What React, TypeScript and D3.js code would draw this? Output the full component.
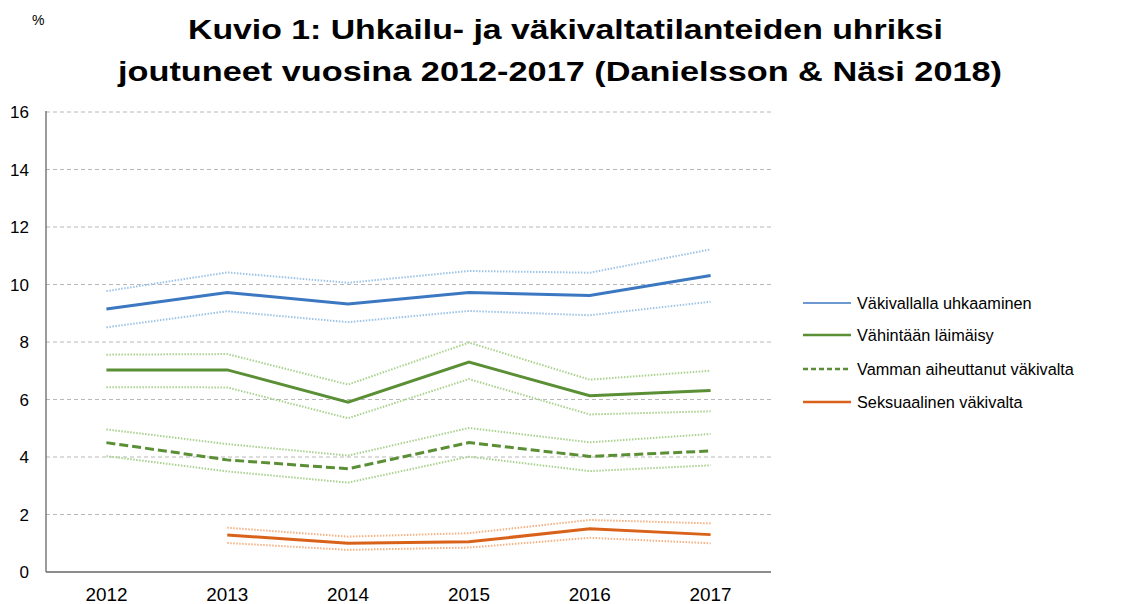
import React from "react";
import * as d3 from "d3";

const years = ["2012", "2013", "2014", "2015", "2016", "2017"];
const yTicks = [0, 2, 4, 6, 8, 10, 12, 14, 16];

const threatMain = [9.15, 9.72, 9.32, 9.72, 9.62, 10.31];
const threatHigh = [9.77, 10.42, 10.06, 10.47, 10.41, 11.22];
const threatLow = [8.51, 9.07, 8.69, 9.08, 8.93, 9.4];

const slapMain = [7.03, 7.03, 5.91, 7.3, 6.13, 6.31];
const slapHigh = [7.56, 7.58, 6.52, 7.98, 6.69, 7.0];
const slapLow = [6.43, 6.42, 5.35, 6.71, 5.48, 5.59];

const injuryMain = [4.5, 3.9, 3.59, 4.5, 4.02, 4.21];
const injuryHigh = [4.96, 4.45, 4.05, 5.01, 4.51, 4.8];
const injuryLow = [4.03, 3.5, 3.11, 4.01, 3.51, 3.71];

const sexMain = [null, 1.29, 1.0, 1.05, 1.5, 1.3];
const sexHigh = [null, 1.54, 1.23, 1.35, 1.81, 1.69];
const sexLow = [null, 1.01, 0.77, 0.85, 1.19, 1.0];

const legendLabels = [
  "Väkivallalla uhkaaminen",
  "Vähintään läimäisy",
  "Vamman aiheuttanut väkivalta",
  "Seksuaalinen väkivalta",
];

const titleLines = [
  "Kuvio 1: Uhkailu- ja väkivaltatilanteiden uhriksi",
  "joutuneet vuosina 2012-2017 (Danielsson & Näsi 2018)",
];

const BLUE = "#3b78c1";
const BLUE_L = "#9dc3e6";
const GREEN = "#5b8f35";
const GREEN_L = "#a9d18e";
const ORANGE = "#d9621b";
const ORANGE_L = "#f4b183";

export default function App() {
  const W = 1121;
  const H = 604;
  const x = d3.scaleBand<string>().domain(years).range([46, 771]);
  const y = d3.scaleLinear().domain([0, 16]).range([572, 112]);
  const cx = (i: number) => (x(years[i]) as number) + x.bandwidth() / 2;
  const line = d3
    .line<number | null>()
    .defined((d) => d !== null)
    .x((_, i) => cx(i))
    .y((d) => y(d as number));

  const font = "Arial, 'Liberation Sans', sans-serif";

  const series = [
    { d: threatHigh, c: BLUE_L, w: 2, dash: "1.5,1.5" },
    { d: threatLow, c: BLUE_L, w: 2, dash: "1.5,1.5" },
    { d: slapHigh, c: GREEN_L, w: 2, dash: "1.5,1.5" },
    { d: slapLow, c: GREEN_L, w: 2, dash: "1.5,1.5" },
    { d: injuryHigh, c: GREEN_L, w: 2, dash: "1.5,1.5" },
    { d: injuryLow, c: GREEN_L, w: 2, dash: "1.5,1.5" },
    { d: sexHigh, c: ORANGE_L, w: 2, dash: "1.5,1.5" },
    { d: sexLow, c: ORANGE_L, w: 2, dash: "1.5,1.5" },
    { d: threatMain, c: BLUE, w: 3, dash: undefined },
    { d: slapMain, c: GREEN, w: 3, dash: undefined },
    { d: injuryMain, c: GREEN, w: 3, dash: "9,4" },
    { d: sexMain, c: ORANGE, w: 3, dash: undefined },
  ];

  const legend = [
    { c: BLUE, dash: undefined, w: 1.5 },
    { c: GREEN, dash: undefined, w: 2.5 },
    { c: GREEN, dash: "5,3", w: 2.5 },
    { c: ORANGE, dash: undefined, w: 2.5 },
  ];
  const legendY = [303, 335, 369, 402];

  return (
    <svg
      width={W}
      height={H}
      style={{ position: "absolute", left: 0, top: 0, background: "#fff" }}
      fontFamily={font}
    >
      <rect width={W} height={H} fill="#fff" />
      <text x={32} y={25} fontSize={14} fill="#000">%</text>
      <text
        x={188}
        y={39}
        fontSize={28.5}
        fontWeight="bold"
        fill="#000"
        textLength={755}
        lengthAdjust="spacingAndGlyphs"
      >
        {titleLines[0]}
      </text>
      <text
        x={118}
        y={81}
        fontSize={28.5}
        fontWeight="bold"
        fill="#000"
        textLength={884}
        lengthAdjust="spacingAndGlyphs"
      >
        {titleLines[1]}
      </text>

      {yTicks.filter((t) => t > 0).map((t) => (
        <line
          key={t}
          x1={46}
          x2={771}
          y1={y(t)}
          y2={y(t)}
          stroke="#b8b8b8"
          strokeWidth={1}
          strokeDasharray="4,3"
        />
      ))}
      {yTicks.map((t) => (
        <text key={t} x={29} y={y(t) + 6} fontSize={17} textAnchor="end" fill="#000">
          {t}
        </text>
      ))}
      <line x1={46} x2={46} y1={111} y2={572} stroke="#666" strokeWidth={1.3} />
      <line x1={46} x2={771} y1={572} y2={572} stroke="#666" strokeWidth={1.3} />
      {years.map((yr, i) => (
        <text
          key={yr}
          x={cx(i) - 21}
          y={601}
          fontSize={17.5}
          fill="#000"
          textLength={42}
          lengthAdjust="spacingAndGlyphs"
        >
          {yr}
        </text>
      ))}

      {series.map((s, i) => (
        <path
          key={i}
          d={line(s.d) || ""}
          fill="none"
          stroke={s.c}
          strokeWidth={s.w}
          strokeDasharray={s.dash}
        />
      ))}

      {legend.map((l, i) => (
        <g key={i}>
          <line
            x1={803}
            x2={851}
            y1={legendY[i]}
            y2={legendY[i]}
            stroke={l.c}
            strokeWidth={l.w}
            strokeDasharray={l.dash}
          />
          <text x={857} y={legendY[i] + 5.5} fontSize={16.3} fill="#000">
            {legendLabels[i]}
          </text>
        </g>
      ))}
    </svg>
  );
}
